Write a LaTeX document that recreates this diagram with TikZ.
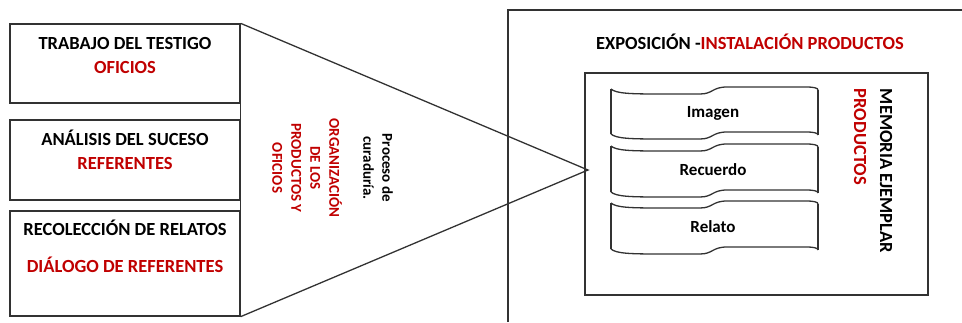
\documentclass[tikz,border=0pt]{standalone}
\usepackage{fontspec}
\setmainfont{Carlito}
\definecolor{myred}{RGB}{192,0,0}
\definecolor{lncol}{RGB}{50,50,50}
\tikzset{
  ln/.style={draw=lncol, line width=1.3pt},
  boxnode/.style={ln, minimum width=230pt, inner sep=0pt},
  bigtxt/.style={font=\fontsize{18.5}{22}\selectfont\bfseries, inner sep=0pt},
  midtxt/.style={font=\fontsize{17}{21}\selectfont\bfseries, inner sep=0pt},
  smalltxt/.style={font=\fontsize{15}{19}\selectfont\bfseries, inner sep=0pt, align=center, rotate=-90},
}
\newcommand\mywave[1]{%
  \draw[ln] (611,#1+2) .. controls (616,#1+6.5) and (630,#1+7) .. (660,#1+7) -- (700,#1+7)
    .. controls (713,#1+7) and (712,#1) .. (727,#1) -- (806,#1)
    .. controls (814,#1) and (818,#1+1) .. (818,#1+3);}
\newcommand\mytape[2]{%
  \mywave{#1}\mywave{#2}
  \draw[ln] (611,#1+2) -- (611,#2+2);
  \draw[ln] (818,#1+3) -- (818,#2+3);}
\begin{document}
\begin{tikzpicture}[x=1pt,y=-1pt]
\useasboundingbox (0,0) rectangle (962,322);
% left boxes
\node[boxnode, minimum height=79pt] (b1) at (125,63.5) {};
\node[boxnode, minimum height=80pt] (b2) at (125,160) {};
\node[boxnode, minimum height=105pt] (b3) at (125,263.5) {};
\node[bigtxt] (t1a) at (125,43) {TRABAJO DEL TESTIGO};
\node[bigtxt, text=myred] (t1b) at (125,67) {OFICIOS};
\node[bigtxt] (t2a) at (125,138) {ANÁLISIS DEL SUCESO};
\node[bigtxt, text=myred] (t2b) at (125,163) {REFERENTES};
\node[bigtxt] (t3a) at (125,228) {RECOLECCIÓN DE RELATOS};
\node[bigtxt, text=myred] (t3b) at (125,265) {DIÁLOGO DE REFERENTES};
% funnel
\coordinate (tip) at (588,170);
\draw[ln] (b1.north east) -- (tip) -- (b3.south east);
\draw[ln] (b1.south east) -- (b2.north east);
\draw[ln] (b2.south east) -- (b3.north east);
\node[smalltxt] (proc) at (378,168) {Proceso de\\curaduría.};
\node[smalltxt, text=myred] (org) at (307,168) {ORGANIZACIÓN\\DE LOS\\PRODUCTOS Y\\OFICIOS};
% right outer frame
\coordinate (oa) at (508,322);
\coordinate (ob) at (508,10);
\coordinate (oc) at (962,10);
\draw[ln] (oa) -- (ob) -- (oc);
\node[bigtxt] (title) at (750,42) {EXPOSICIÓN -\textcolor{myred}{INSTALACIÓN PRODUCTOS}};
% inner box
\node[ln, minimum width=343pt, minimum height=222pt, inner sep=0pt] (inner) at (756.5,184) {};
\mytape{87}{132}
\mytape{144}{190}
\mytape{201}{247}
\node[midtxt] (img) at (713,113) {Imagen};
\node[midtxt] (rec) at (713,170) {Recuerdo};
\node[midtxt] (rel) at (713,227) {Relato};
\node[bigtxt, align=left, rotate=-90, font=\fontsize{18.5}{26}\selectfont\bfseries] (mem) at (873,171) {MEMORIA EJEMPLAR\\\textcolor{myred}{PRODUCTOS}};
\end{tikzpicture}
\end{document}
